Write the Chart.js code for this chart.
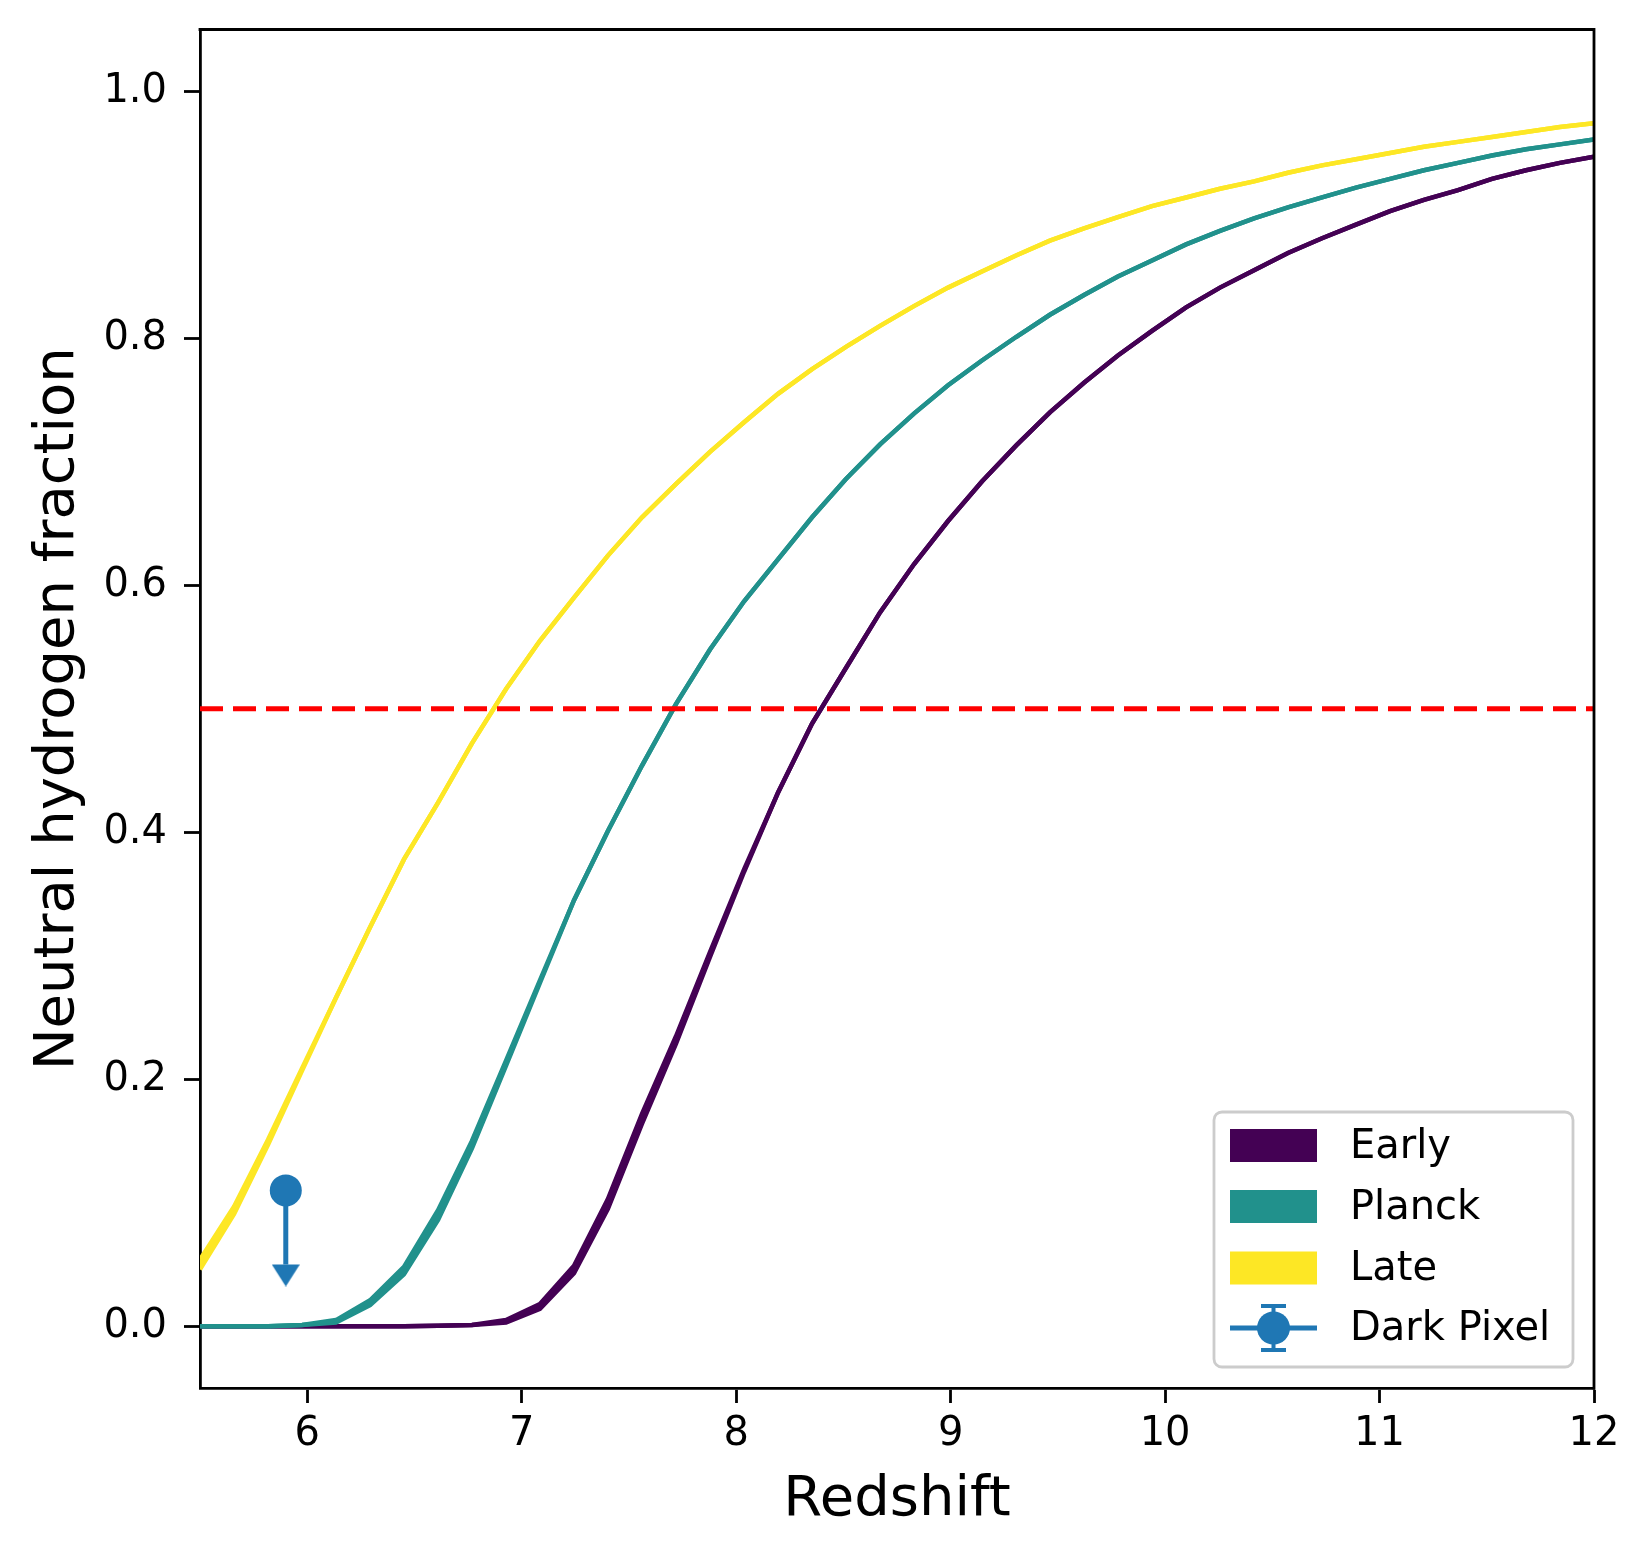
<!DOCTYPE html>
<html>
<head>
<meta charset="utf-8">
<title>Neutral hydrogen fraction vs redshift</title>
<script src="https://cdn.jsdelivr.net/npm/chart.js@4.4.1/dist/chart.umd.min.js"></script>
<style>
  html, body { margin: 0; padding: 0; background: #ffffff; }
  #wrap { width: 1650px; height: 1561px; }
</style>
</head>
<body>
<div id="wrap"><canvas id="chart" width="1650" height="1561"></canvas></div>
<script>
// redshift grid of the model curves
const redshift = [5.500, 5.659, 5.817, 5.976, 6.134, 6.293, 6.451, 6.610, 6.768, 6.927,
  7.085, 7.244, 7.402, 7.561, 7.720, 7.878, 8.037, 8.195, 8.354, 8.512,
  8.671, 8.829, 8.988, 9.146, 9.305, 9.463, 9.622, 9.780, 9.939, 10.098,
  10.256, 10.415, 10.573, 10.732, 10.890, 11.049, 11.207, 11.366, 11.524, 11.683,
  11.841, 12.000];

// neutral fraction for each reionisation history
const early = [0, 0, 0, 0, 0, 0, 0, 0.0005, 0.001, 0.004,
  0.016, 0.046, 0.099, 0.168, 0.232, 0.301, 0.369, 0.432, 0.488, 0.533,
  0.578, 0.617, 0.652, 0.684, 0.713, 0.740, 0.764, 0.786, 0.806, 0.825,
  0.841, 0.855, 0.869, 0.881, 0.892, 0.903, 0.912, 0.920, 0.929, 0.936,
  0.942, 0.947];
const planck = [0, 0, 0, 0.001, 0.004, 0.019, 0.045, 0.090, 0.147, 0.213,
  0.279, 0.345, 0.401, 0.454, 0.504, 0.548, 0.587, 0.621, 0.655, 0.686,
  0.714, 0.739, 0.762, 0.782, 0.801, 0.819, 0.835, 0.850, 0.863, 0.876,
  0.887, 0.897, 0.906, 0.914, 0.922, 0.929, 0.936, 0.942, 0.948, 0.953,
  0.957, 0.961];
const late = [0.050, 0.094, 0.149, 0.208, 0.266, 0.323, 0.378, 0.424, 0.472, 0.516,
  0.555, 0.590, 0.624, 0.655, 0.682, 0.708, 0.732, 0.755, 0.775, 0.793,
  0.810, 0.826, 0.841, 0.854, 0.867, 0.879, 0.889, 0.898, 0.907, 0.914,
  0.921, 0.927, 0.934, 0.940, 0.945, 0.950, 0.955, 0.959, 0.963, 0.967,
  0.971, 0.974];

// half width of each shaded band (only visible where the curves rise)
const earlySpread = [0, 0, 0, 0, 0, 0, 0, 0, 0, 0.001,
  0.002, 0.003, 0.004, 0.004, 0.003, 0.002, 0.001, 0, 0, 0,
  0, 0, 0, 0, 0, 0, 0, 0, 0, 0,
  0, 0, 0, 0, 0, 0, 0, 0, 0, 0,
  0, 0];
const planckSpread = [0, 0, 0, 0, 0.001, 0.002, 0.003, 0.004, 0.003, 0.002,
  0.001, 0, 0, 0, 0, 0, 0, 0, 0, 0,
  0, 0, 0, 0, 0, 0, 0, 0, 0, 0,
  0, 0, 0, 0, 0, 0, 0, 0, 0, 0,
  0, 0];
const lateSpread = [0.004, 0.003, 0.002, 0.001, 0, 0, 0, 0, 0, 0,
  0, 0, 0, 0, 0, 0, 0, 0, 0, 0,
  0, 0, 0, 0, 0, 0, 0, 0, 0, 0,
  0, 0, 0, 0, 0, 0, 0, 0, 0, 0,
  0, 0];

// half-neutral reference line
const halfZ = [5.5, 12];
const halfXHI = [0.5, 0.5];

// dark pixel upper limit
const darkPixelZ = [5.9];
const darkPixelXHI = [0.11];
const darkPixelErr = [0.06];

const xTicks = [6, 7, 8, 9, 10, 11, 12];
const yTicks = [0.0, 0.2, 0.4, 0.6, 0.8, 1.0];

const seriesNames = ['Early', 'Planck', 'Late'];
const seriesColors = ['#440154', '#21918c', '#fde725'];
const pixelColor = '#1f77b4';

Chart.defaults.font.family = 'DejaVu Sans';
Chart.defaults.color = '#000';

function toPoints(xs, ys) {
  return xs.map(function(x, i) { return { x: x, y: ys[i] }; });
}

// arrow head whose base sits on the point (like matplotlib's uplims caret)
function makeArrowHead(w, h, color) {
  const c = document.createElement('canvas');
  c.width = w;
  c.height = h * 2;
  const g = c.getContext('2d');
  g.fillStyle = color;
  g.beginPath();
  g.moveTo(0, h);
  g.lineTo(w, h);
  g.lineTo(w / 2, 2 * h);
  g.closePath();
  g.fill();
  return c;
}
const arrowHead = makeArrowHead(28, 22, pixelColor);

// top and right spines
const framePlugin = {
  id: 'frame',
  afterDraw(chart) {
    const a = chart.chartArea;
    const ctx = chart.ctx;
    ctx.save();
    ctx.strokeStyle = '#000';
    ctx.lineWidth = 2.8;
    ctx.beginPath();
    ctx.moveTo(a.left - 1.4, a.top);
    ctx.lineTo(a.right, a.top);
    ctx.lineTo(a.right, a.bottom + 1.4);
    ctx.stroke();
    ctx.restore();
  }
};

// matplotlib style legend in the lower right corner
const legendPlugin = {
  id: 'boxLegend',
  afterDraw(chart) {
    const a = chart.chartArea;
    const ctx = chart.ctx;
    const w = 359, h = 255;
    const x0 = a.right - 21 - w;
    const y0 = a.bottom - 21 - h;
    ctx.save();
    ctx.beginPath();
    ctx.roundRect(x0, y0, w, h, 8);
    ctx.fillStyle = 'rgba(255,255,255,0.8)';
    ctx.fill();
    ctx.lineWidth = 2.8;
    ctx.strokeStyle = '#cccccc';
    ctx.stroke();

    const rows = [y0 + 33.5, y0 + 94.5, y0 + 156, y0 + 216];
    const hx = x0 + 16, hw = 87;
    ctx.font = '40px "DejaVu Sans"';
    ctx.textBaseline = 'middle';
    ctx.textAlign = 'left';
    seriesNames.forEach(function(name, i) {
      ctx.fillStyle = seriesColors[i];
      ctx.fillRect(hx, rows[i] - 16.5, hw, 33);
      ctx.fillStyle = '#000';
      ctx.fillText(name, x0 + 136, rows[i] + 2);
    });

    // errorbar handle
    const cy = rows[3], cx = hx + hw / 2;
    ctx.strokeStyle = pixelColor;
    ctx.fillStyle = pixelColor;
    ctx.lineWidth = 5;
    ctx.beginPath();
    ctx.moveTo(hx, cy);
    ctx.lineTo(hx + hw, cy);
    ctx.stroke();
    ctx.lineWidth = 4;
    ctx.beginPath();
    ctx.moveTo(cx, cy - 22);
    ctx.lineTo(cx, cy + 22);
    ctx.moveTo(cx - 12.5, cy - 22);
    ctx.lineTo(cx + 12.5, cy - 22);
    ctx.moveTo(cx - 12.5, cy + 22);
    ctx.lineTo(cx + 12.5, cy + 22);
    ctx.stroke();
    ctx.beginPath();
    ctx.arc(cx, cy, 16.5, 0, Math.PI * 2);
    ctx.fill();
    ctx.fillStyle = '#000';
    ctx.fillText('Dark Pixel', x0 + 136, cy + 2);
    ctx.restore();
  }
};

// each model is a narrow band: upper edge filled down to lower edge
const bandSets = [];
[[early, earlySpread], [planck, planckSpread], [late, lateSpread]].forEach(function(pair, i) {
  const vals = pair[0], spread = pair[1];
  const upper = vals.map(function(v, k) { return v + spread[k]; });
  const lower = vals.map(function(v, k) { return Math.max(0, v - spread[k]); });
  bandSets.push({
    label: seriesNames[i],
    data: toPoints(redshift, upper),
    borderColor: seriesColors[i],
    backgroundColor: seriesColors[i],
    borderWidth: 4.5,
    pointRadius: 0,
    tension: 0,
    fill: '+1',
    order: 10 - 2 * i
  });
  bandSets.push({
    label: seriesNames[i] + ' lower',
    data: toPoints(redshift, lower),
    borderColor: seriesColors[i],
    backgroundColor: seriesColors[i],
    borderWidth: 4.5,
    pointRadius: 0,
    tension: 0,
    fill: false,
    order: 10 - 2 * i
  });
});

const pixelPoints = [
  { x: darkPixelZ[0], y: darkPixelXHI[0] },
  { x: darkPixelZ[0], y: darkPixelXHI[0] - darkPixelErr[0] }
];

const datasets = bandSets.concat([
  {
    label: 'x_HI = 0.5',
    data: toPoints(halfZ, halfXHI),
    borderColor: '#ff0000',
    borderWidth: 5,
    borderDash: [23, 10],
    pointRadius: 0,
    fill: false,
    order: 2
  },
  {
    label: 'Dark Pixel',
    data: pixelPoints,
    borderColor: pixelColor,
    backgroundColor: pixelColor,
    borderWidth: 5,
    pointStyle: ['circle', arrowHead],
    pointRadius: [16, 14],
    pointBorderWidth: 0,
    pointBackgroundColor: pixelColor,
    fill: false,
    order: 1
  }
]);

new Chart(document.getElementById('chart'), {
  type: 'line',
  data: { datasets: datasets },
  options: {
    responsive: false,
    devicePixelRatio: 1,
    animation: false,
    events: [],
    layout: { padding: { top: 29.5, right: 56, bottom: 0, left: 0 } },
    plugins: {
      legend: { display: false },
      tooltip: { enabled: false },
      filler: { propagate: false }
    },
    scales: {
      x: {
        type: 'linear',
        min: 5.5,
        max: 12,
        afterBuildTicks: function(s) { s.ticks = xTicks.map(function(v) { return { value: v }; }); },
        afterFit: function(s) { s.height = 173; s.paddingLeft = 0; s.paddingRight = 0; },
        ticks: {
          font: { size: 40 },
          color: '#000',
          padding: 8,
          maxRotation: 0,
          autoSkip: false,
          callback: function(v) { return String(v); }
        },
        grid: {
          display: true,
          drawOnChartArea: false,
          drawTicks: true,
          tickLength: 15,
          tickWidth: 2.8,
          tickColor: '#000',
          color: '#000'
        },
        border: { display: true, color: '#000', width: 2.8 },
        title: {
          display: true,
          text: 'Redshift',
          font: { size: 56 },
          color: '#000',
          padding: { top: 0, bottom: 27 }
        }
      },
      y: {
        type: 'linear',
        min: -0.05,
        max: 1.05,
        afterBuildTicks: function(s) { s.ticks = yTicks.map(function(v) { return { value: v }; }); },
        afterFit: function(s) { s.width = 200; s.paddingTop = 0; s.paddingBottom = 0; },
        ticks: {
          font: { size: 40 },
          color: '#000',
          padding: 17,
          autoSkip: false,
          callback: function(v) { return v.toFixed(1); }
        },
        grid: {
          display: true,
          drawOnChartArea: false,
          drawTicks: true,
          tickLength: 16,
          tickWidth: 2.8,
          tickColor: '#000',
          color: '#000'
        },
        border: { display: true, color: '#000', width: 2.8 },
        title: {
          display: true,
          text: 'Neutral hydrogen fraction',
          font: { size: 56 },
          color: '#000',
          padding: { top: 25, bottom: 0 }
        }
      }
    }
  },
  plugins: [framePlugin, legendPlugin]
});
</script>
</body>
</html>
